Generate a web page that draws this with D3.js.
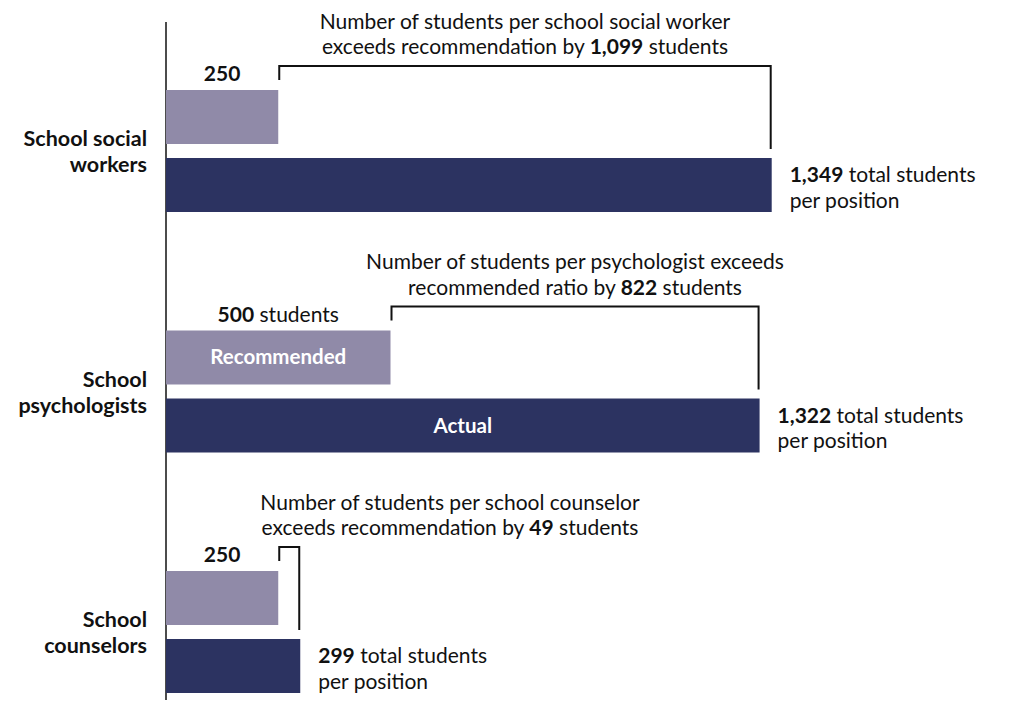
<!DOCTYPE html>
<html>
<head>
<meta charset="utf-8">
<script src="https://cdn.jsdelivr.net/npm/d3@7"></script>
<style>
  html, body { margin: 0; padding: 0; background: #fff; }
  svg { display: block; font-family: Lato, "Open Sans", sans-serif; }
</style>
</head>
<body>
<svg id="chart" width="1030" height="702"></svg>
<script>
// Student-to-staff ratios: recommended vs. actual
const categories = ["School social workers", "School psychologists", "School counselors"];
const categoryLines = [["School social", "workers"], ["School", "psychologists"], ["School", "counselors"]];
const recommended = [250, 500, 250];
const actual = [1349, 1322, 299];
const staffNouns = ["school social worker", "psychologist", "school counselor"];
const recLabelSuffix = ["", " students", ""];

const colors = { recommended: "#908aa8", actual: "#2c3361", ink: "#111" };
const fs = { note: 21, label: 21.5, inBar: 20.5 };
const leading = { note: 25.5, label: 26 };
const fmt = d3.format(",");

const svg = d3.select("#chart");

const x = d3.scaleLinear().domain([0, 2000]).range([166, 166 + 898]);

const group = d3.scaleBand().domain(categories).range([90, 90 + 3 * 240.5]);
const sub = d3.scaleBand().domain(["rec", "act"]).range([0, 122]).paddingInner(0.206);

// vertical baseline
svg.append("line")
  .attr("x1", x(0)).attr("x2", x(0))
  .attr("y1", 22).attr("y2", 700)
  .attr("stroke", colors.ink).attr("stroke-width", 1.5);

// multi-line text block: lines is an array of arrays of [text, bold] runs
function block(parent, lines, px, py, lh, anchor, size, weight) {
  const t = parent.append("text")
    .attr("x", px).attr("y", py)
    .attr("text-anchor", anchor).attr("font-size", size)
    .attr("font-weight", weight || 400).attr("fill", colors.ink);
  lines.forEach((runs, k) => {
    runs.forEach(([s, bold], j) => {
      const sp = t.append("tspan").text(s);
      if (j === 0) sp.attr("x", px).attr("dy", k === 0 ? 0 : lh);
      if (bold) sp.attr("font-weight", 700);
    });
  });
  return t;
}

categories.forEach((cat, i) => {
  const g = svg.append("g");
  const recTop = group(cat) + sub("rec");
  const actTop = group(cat) + sub("act");
  const bw = sub.bandwidth();
  const recEnd = x(recommended[i]);
  const actEnd = x(actual[i]);
  const diff = actual[i] - recommended[i];

  // bars
  g.append("rect")
    .attr("x", x(0)).attr("y", recTop)
    .attr("width", recEnd - x(0)).attr("height", bw)
    .attr("fill", colors.recommended);
  g.append("rect")
    .attr("x", x(0)).attr("y", actTop)
    .attr("width", actEnd - x(0)).attr("height", bw)
    .attr("fill", colors.actual);

  // in-bar labels on the middle pair
  if (i === 1) {
    g.append("text")
      .attr("x", (x(0) + recEnd) / 2).attr("y", recTop + bw / 2 + 7)
      .attr("text-anchor", "middle").attr("fill", "#fff")
      .attr("font-weight", 700).attr("font-size", fs.inBar)
      .text("Recommended");
    g.append("text")
      .attr("x", (x(0) + actEnd) / 2).attr("y", actTop + bw / 2 + 7)
      .attr("text-anchor", "middle").attr("fill", "#fff")
      .attr("font-weight", 700).attr("font-size", fs.inBar)
      .text("Actual");
  }

  // recommended value label
  block(g, [[[fmt(recommended[i]), true]].concat(recLabelSuffix[i] ? [[recLabelSuffix[i], false]] : [])],
        (x(0) + recEnd) / 2, recTop - 9, 0, "middle", fs.note);

  // bracket spanning the gap
  const bTop = recTop - 24;
  const bx0 = recEnd + 1;
  const bx1 = actEnd - 1;
  g.append("path")
    .attr("d", `M${bx0},${bTop + 14} V${bTop} H${bx1} V${actTop - 9}`)
    .attr("fill", "none").attr("stroke", colors.ink).attr("stroke-width", 2);

  // gap annotation
  const mid = Math.max((bx0 + bx1) / 2, x(0) + 284);
  const line2 = bTop - 12;
  const first = i === 1 ? `Number of students per ${staffNouns[i]} exceeds`
                        : `Number of students per ${staffNouns[i]}`;
  const lead = i === 1 ? "recommended ratio by " : "exceeds recommendation by ";
  block(g, [[[first, false]], [[lead, false], [fmt(diff), true], [" students", false]]],
        mid, line2 - leading.note, leading.note, "middle", fs.note);

  // actual value label
  block(g, [[[fmt(actual[i]), true], [" total students", false]], [["per position", false]]],
        actEnd + 18, actTop + 24, leading.note, "start", fs.note);

  // category label
  const gapMid = (recTop + bw + actTop) / 2;
  block(g, categoryLines[i].map(ln => [[ln, false]]),
        147, gapMid - 5, leading.label, "end", fs.label, 700);
});
</script>
</body>
</html>
